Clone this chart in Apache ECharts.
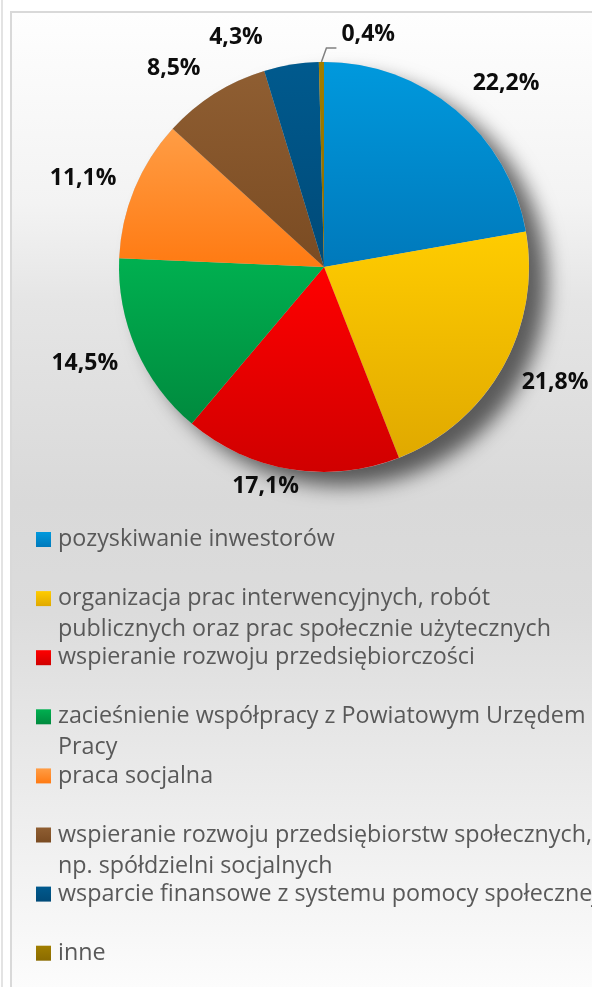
<!DOCTYPE html>
<html>
<head>
<meta charset="utf-8">
<script src="https://cdn.jsdelivr.net/npm/echarts@6/dist/echarts.min.js"></script>
<style>
	html, body { margin: 0; padding: 0; width: 592px; height: 987px; overflow: hidden; background: #fff; }
	#edge { position: absolute; left: 1px; top: 0; width: 2px; height: 987px; background: #e3e3e3; }
	#frame {
		position: absolute; left: 10px; top: 11px; width: 640px; height: 1000px;
		border-left: 2px solid #d9d9d9; border-top: 2px solid #d9d9d9;
		background: linear-gradient(to bottom, #fefefe 0px, #f3f3f3 190px, #e5e5e5 290px, #d9d9d9 490px, #dcdcdc 600px, #e4e4e4 690px, #fcfcfc 975px);
	}
	#chart { position: absolute; left: 0; top: 0; width: 592px; height: 1040px; }
</style>
</head>
<body>
<div id="edge"></div>
<div id="frame"></div>
<div id="chart"></div>
<script>
// kategorie (legenda, z podziałem na wiersze)
const categoryLines = [
	['pozyskiwanie inwestorów'],
	['organizacja prac interwencyjnych, robót', 'publicznych oraz prac społecznie użytecznych'],
	['wspieranie rozwoju przedsiębiorczości'],
	['zacieśnienie współpracy z Powiatowym Urzędem', 'Pracy'],
	['praca socjalna'],
	['wspieranie rozwoju przedsiębiorstw społecznych,', 'np. spółdzielni socjalnych'],
	['wsparcie finansowe z systemu pomocy społecznej'],
	['inne']
];
const categories = categoryLines.map(l => l.join(' '));

// udział procentowy
const values = [22.2, 21.8, 17.1, 14.5, 11.1, 8.5, 4.3, 0.4];

// kolory wycinków (góra / dół gradientu)
const colorTop = ['#0099dd', '#ffcc00', '#ff0000', '#00b050', '#ff9d45', '#8f5e32', '#005a8e', '#a17e00'];
const colorBottom = ['#0079bb', '#e0a900', '#d00000', '#008a3e', '#ff7a12', '#7a4b22', '#004a78', '#8a6b00'];

// dopasowanie położenia etykiet
const labelLen = [34, 32, 17, 34, 26, 30, 28, 10];
const labelLen2 = [-5, -9, -11, -13, -6, -2, 24, 10];

function grad(i) {
	return new echarts.graphic.LinearGradient(0, 0, 0, 1, [
		{ offset: 0, color: colorTop[i] },
		{ offset: 1, color: colorBottom[i] }
	]);
}

const font = "'Open Sans', 'DejaVu Sans', sans-serif";
const center = [324, 267];
const radius = 205;

const rich = {
	t: { fontFamily: font, fontSize: 23.3, color: '#595959', lineHeight: 31 },
	gap: { width: 7 },
	pad: { width: 22 }
};
categories.forEach((c, i) => {
	rich['q' + i] = { width: 15, height: 15, backgroundColor: grad(i), verticalAlign: 'middle' };
});

const chart = echarts.init(document.getElementById('chart'));

const option = {
	animation: false,
	legend: {
		orient: 'vertical',
		left: 31,
		top: 528,
		height: 500,
		padding: 0,
		itemGap: 5.1,
		itemWidth: 0,
		itemHeight: 0,
		icon: 'none',
		selectedMode: false,
		data: categories,
		formatter: name => {
			const i = categories.indexOf(name);
			const lines = categoryLines[i];
			const first = '{q' + i + '|}{gap|}{t|' + lines[0] + '}';
			const second = lines[1] ? '{pad|}{t|' + lines[1] + '}' : '{t| }';
			return first + '\n' + second;
		},
		textStyle: { rich: rich }
	},
	series: [
		{
			// cień pod wykresem
			type: 'pie',
			z: 1,
			silent: true,
			center: center,
			radius: radius,
			label: { show: false },
			labelLine: { show: false },
			emphasis: { disabled: true },
			itemStyle: {
				color: '#c8c8c8',
				shadowBlur: 20,
				shadowOffsetX: 18,
				shadowOffsetY: 14,
				shadowColor: 'rgba(0,0,0,0.6)'
			},
			data: [{ value: 1, name: 'cien' }]
		},
		{
			type: 'pie',
			z: 2,
			center: center,
			radius: radius,
			startAngle: 90,
			clockwise: true,
			avoidLabelOverlap: false,
			emphasis: { scale: false },
			data: values.map((v, i) => ({
				value: v,
				name: categories[i],
				itemStyle: { color: grad(i) },
				labelLine: { show: i === 7, length: labelLen[i], length2: labelLen2[i] }
			})),
			label: {
				position: 'outside',
				distanceToLabelLine: 0,
				fontFamily: font,
				fontSize: 23,
				fontWeight: 'bold',
				color: '#0d0d0d',
				formatter: p => p.value.toFixed(1).replace('.', ',') + '%'
			},
			labelLine: {
				lineStyle: { color: '#808080', width: 1.5 }
			},
			labelLayout: p => {
				if (p.dataIndex !== 7 || !p.labelLinePoints) return {};
				const s = p.labelLinePoints[0];
				return {
					x: s[0] + 20,
					y: s[1] - 28,
					align: 'left',
					verticalAlign: 'middle',
					labelLinePoints: [s, [s[0] + 5, s[1] - 14], [s[0] + 15, s[1] - 14]]
				};
			}
		}
	]
};

chart.setOption(option);

window.addEventListener('resize', () => {
	chart.resize();
});
</script>
</body>
</html>
